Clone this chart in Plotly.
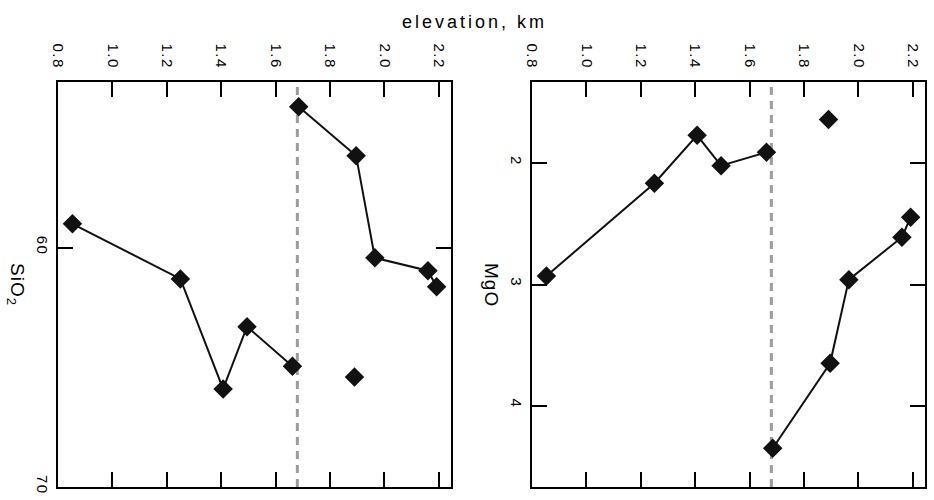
import plotly.graph_objects as go

# Sample elevations (km) and compositions, split into the two connected traverses
# plus one isolated sample.
lower_elev = [0.853, 1.25, 1.407, 1.495, 1.662]
lower_sio2 = [59.0, 61.3, 65.9, 63.3, 64.95]
lower_mgo = [2.93, 2.165, 1.77, 2.02, 1.91]

upper_elev = [1.685, 1.896, 1.965, 2.16, 2.192]
upper_sio2 = [54.1, 56.15, 60.42, 60.96, 61.63]
upper_mgo = [4.35, 3.65, 2.96, 2.61, 2.446]

lone_elev = [1.89]
lone_sio2 = [65.4]
lone_mgo = [1.64]

boundary_elev = 1.68

elev_ticks = [0.8, 1.0, 1.2, 1.4, 1.6, 1.8, 2.0, 2.2]
sio2_ticks = [60, 70]
mgo_ticks = [2, 3, 4]

FONT = "Liberation Sans, Arial, sans-serif"


def spaced(s, px=1.5):
    return f'<span style="letter-spacing:{px}px">{s}</span>'


fig = go.Figure()

line_style = dict(color="#111111", width=2)
marker_style = dict(symbol="diamond", size=15, color="#111111", line=dict(width=0))

for xa, ya, lo_y, up_y, one_y in [
    ("x", "y", lower_sio2, upper_sio2, lone_sio2),
    ("x2", "y2", lower_mgo, upper_mgo, lone_mgo),
]:
    fig.add_trace(go.Scatter(x=lower_elev, y=lo_y, mode="lines+markers", line=line_style,
                             marker=marker_style, xaxis=xa, yaxis=ya, showlegend=False))
    fig.add_trace(go.Scatter(x=upper_elev, y=up_y, mode="lines+markers", line=line_style,
                             marker=marker_style, xaxis=xa, yaxis=ya, showlegend=False))
    fig.add_trace(go.Scatter(x=lone_elev, y=one_y, mode="markers",
                             marker=marker_style, xaxis=xa, yaxis=ya, showlegend=False))
    fig.add_shape(type="line", xref=xa, yref=f"{ya} domain", x0=boundary_elev, x1=boundary_elev,
                  y0=0, y1=1, line=dict(color="#9c9c9c", width=3, dash="8px,6px"), layer="below")

common_x = dict(
    range=[0.8, 2.245], side="top", showline=True, mirror="ticks", linecolor="black",
    linewidth=2, ticks="inside", ticklen=15, tickwidth=2, tickcolor="black",
    tickvals=elev_ticks, ticktext=[spaced(f"{v:.1f}") for v in elev_ticks],
    tickangle=90, showgrid=False, zeroline=False, ticklabelstandoff=6, automargin=False,
    tickfont=dict(family=FONT, size=15, color="black"),
)
common_y = dict(
    showline=True, mirror="ticks", linecolor="black", linewidth=2, ticks="inside",
    ticklen=15, tickwidth=2, tickcolor="black", tickangle=90, showgrid=False,
    zeroline=False, ticklabelstandoff=1, automargin=False,
    tickfont=dict(family=FONT, size=15, color="black"),
)

fig.update_layout(
    width=934, height=500,
    margin=dict(l=0, r=0, t=0, b=0),
    paper_bgcolor="white", plot_bgcolor="white",
    xaxis=dict(domain=[0.0621, 0.4829], anchor="y", **common_x),
    xaxis2=dict(domain=[0.5696, 0.9904], anchor="y2", **common_x),
    yaxis=dict(domain=[0.026, 0.836], anchor="x", range=[70, 53.07],
               tickvals=sio2_ticks, ticktext=[spaced(str(v)) for v in sio2_ticks], **common_y),
    yaxis2=dict(domain=[0.026, 0.836], anchor="x2", range=[4.67, 1.33],
                tickvals=mgo_ticks, ticktext=[spaced(str(v)) for v in mgo_ticks], **common_y),
    annotations=[
        dict(text=spaced("elevation, km", 3), x=0.5075, y=1 - 22 / 500, xref="paper",
             yref="paper", showarrow=False, xanchor="center", yanchor="middle",
             font=dict(family=FONT, size=18, color="black")),
        dict(text=spaced("SiO<sub>2</sub>", 1), x=16 / 934, y=1 - 284 / 500, xref="paper",
             yref="paper", showarrow=False, textangle=90, xanchor="center", yanchor="middle",
             font=dict(family=FONT, size=19, color="black")),
        dict(text=spaced("MgO", 1), x=492 / 934, y=1 - 285 / 500, xref="paper",
             yref="paper", showarrow=False, textangle=90, xanchor="center", yanchor="middle",
             font=dict(family=FONT, size=19, color="black")),
    ],
)

fig.write_html("out.html")
